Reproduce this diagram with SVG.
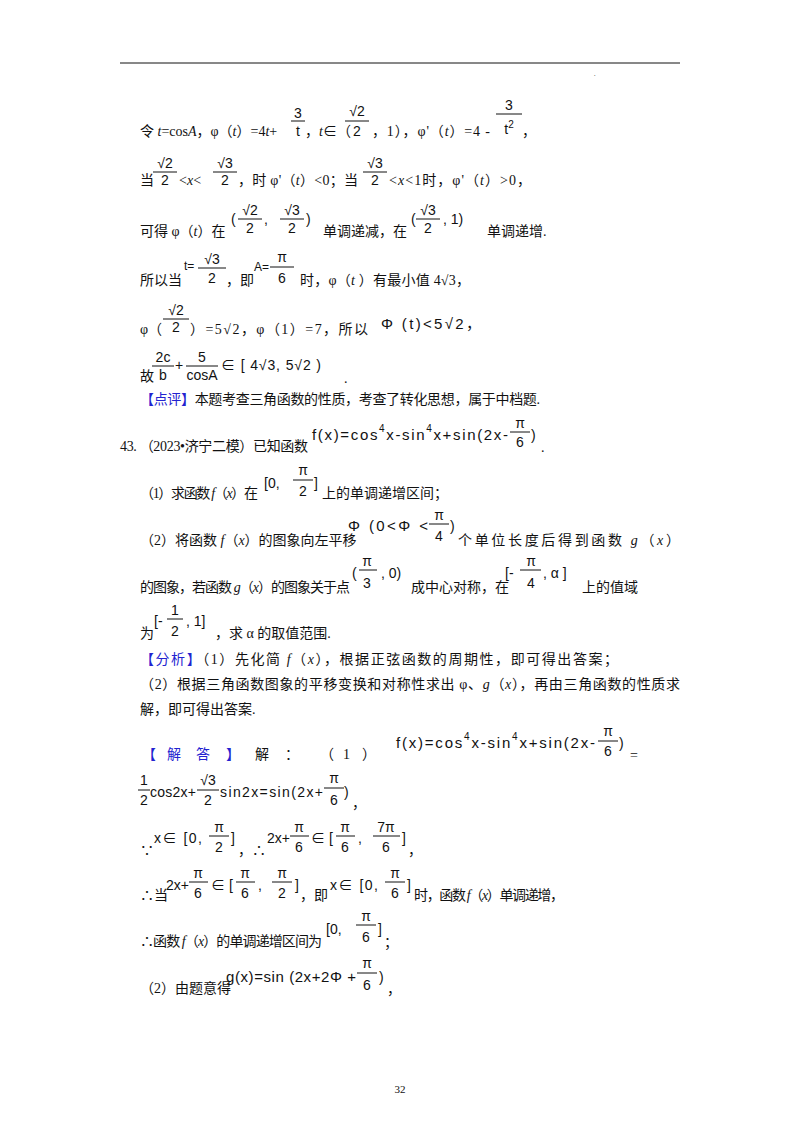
<svg xmlns="http://www.w3.org/2000/svg" width="800" height="1132" viewBox="0 0 800 1132">
<style>
text{font-family:"Liberation Serif","Noto Sans CJK SC",serif;font-size:14px;fill:#111}
.m{font-family:"Liberation Sans","Noto Sans CJK SC",sans-serif;font-size:14px}
.c{text-anchor:middle}
.b{fill:#2323d0}
.s{font-size:10px}
line{stroke:#111;stroke-width:1}
</style>
<rect width="800" height="1132" fill="#fff"/>
<line x1="120" y1="63" x2="680" y2="63" stroke="#000"/>
<text x="594" y="76" style="font-size:6px">.</text>
<g id="l1">
<text x="140" y="136">令 <tspan font-style="italic">t</tspan>=cos<tspan font-style="italic">A</tspan>，φ（<tspan font-style="italic">t</tspan>）=4<tspan font-style="italic">t</tspan>+</text>
<text class="m c" x="298" y="118">3</text><line x1="291" y1="121" x2="305" y2="121"/><text class="m c" x="298" y="136">t</text>
<text x="305" y="136">，<tspan font-style="italic">t</tspan>∈（</text>
<text class="m c" x="357" y="116">√2</text><line x1="345" y1="121" x2="369" y2="121"/><text class="m c" x="357" y="136">2</text>
<text x="372" y="136" textLength="118">，1），φ'（<tspan font-style="italic">t</tspan>）=4 -</text>
<text class="m c" x="509" y="110">3</text><line x1="496" y1="114" x2="522" y2="114"/><text class="m c" x="509" y="134">t<tspan class="s" dy="-6">2</tspan></text>
<text x="522" y="136">，</text>
</g>
<g id="l2">
<text x="140" y="185">当</text>
<text class="m c" x="165" y="168">√2</text><line x1="153" y1="172" x2="177" y2="172"/><text class="m c" x="165" y="185">2</text>
<text x="179" y="185">&lt;<tspan font-style="italic">x</tspan>&lt;</text>
<text class="m c" x="225" y="168">√3</text><line x1="213" y1="172" x2="237" y2="172"/><text class="m c" x="225" y="185">2</text>
<text x="238" y="185" textLength="120">，时 φ'（<tspan font-style="italic">t</tspan>）&lt;0；当</text>
<text class="m c" x="375" y="168">√3</text><line x1="363" y1="172" x2="387" y2="172"/><text class="m c" x="375" y="185">2</text>
<text x="389" y="185" textLength="142">&lt;<tspan font-style="italic">x</tspan>&lt;1时，φ'（<tspan font-style="italic">t</tspan>）&gt;0，</text>
</g>
<g id="l3">
<text x="140" y="236">可得 φ（<tspan font-style="italic">t</tspan>）在</text>
<text class="m" x="231" y="224">(</text>
<text class="m c" x="250" y="215">√2</text><line x1="238" y1="219" x2="262" y2="219"/><text class="m c" x="250" y="233">2</text>
<text class="m" x="264" y="224">,</text>
<text class="m c" x="292" y="215">√3</text><line x1="280" y1="219" x2="304" y2="219"/><text class="m c" x="292" y="233">2</text>
<text class="m" x="306" y="224">)</text>
<text x="323" y="236">单调递减，在</text>
<text class="m" x="411" y="224">(</text>
<text class="m c" x="428" y="215">√3</text><line x1="416" y1="219" x2="440" y2="219"/><text class="m c" x="428" y="233">2</text>
<text class="m" x="443" y="224">,  1)</text>
<text x="487" y="236">单调递增.</text>
</g>
<g id="l4">
<text x="140" y="285">所以当</text>
<text class="m" x="184" y="270" style="font-size:12px">t=</text>
<text class="m c" x="212" y="264">√3</text><line x1="198" y1="268" x2="226" y2="268"/><text class="m c" x="212" y="283">2</text>
<text x="226" y="285">，即</text>
<text class="m" x="254" y="271" style="font-size:12px">A=</text>
<text class="m c" x="282" y="262">π</text><line x1="270" y1="267" x2="294" y2="267"/><text class="m c" x="282" y="283">6</text>
<text x="300" y="285" textLength="170">时，φ（<tspan font-style="italic">t</tspan> ）有最小值 4√3，</text>
</g>
<g id="l5">
<text x="140" y="334">φ（</text>
<text class="m c" x="176" y="315">√2</text><line x1="163" y1="319" x2="189" y2="319"/><text class="m c" x="176" y="332">2</text>
<text x="190" y="334" textLength="178">）=5√2，φ（1）=7，所以</text>
<text class="m" x="381" y="329" textLength="100" style="font-size:15px">Φ (t)&lt;5√2，</text>
</g>
<g id="l6">
<text x="140" y="381">故</text>
<text class="m c" x="163" y="362">2c</text><line x1="152" y1="366" x2="174" y2="366"/><text class="m c" x="163" y="380">b</text>
<text class="m" x="175" y="370">+</text>
<text class="m c" x="202" y="362">5</text><line x1="186" y1="366" x2="218" y2="366"/><text class="m c" x="202" y="380">cosA</text>
<text class="m" x="221" y="370" textLength="100">∈ [ 4√3, 5√2 )</text>
<text x="344" y="383">.</text>
</g>
<g id="dianping">
<text x="140" y="404" textLength="400"><tspan class="b">【点评】</tspan>本题考查三角函数的性质，考查了转化思想，属于中档题.</text>
</g>
<g id="q43">
<text x="120" y="451" textLength="188">43. （2023•济宁二模）已知函数</text>
<text class="m" x="312" y="440" textLength="196" style="font-size:15px">f(x)=cos<tspan class="s" dy="-8">4</tspan><tspan dy="8">x-sin</tspan><tspan class="s" dy="-8">4</tspan><tspan dy="8">x+sin(2x-</tspan></text>
<text class="m c" x="520" y="428">π</text><line x1="510" y1="432" x2="530" y2="432"/><text class="m c" x="520" y="447">6</text>
<text class="m" x="531" y="440">)</text>
<text x="541" y="452">.</text>
</g>
<g id="q1">
<text x="140" y="498" textLength="118">（1）求函数 <tspan font-style="italic">f</tspan>（<tspan font-style="italic">x</tspan>）在</text>
<text class="m" x="264" y="488">[0,</text>
<text class="m c" x="303" y="475">π</text><line x1="293" y1="480" x2="313" y2="480"/><text class="m c" x="303" y="496">2</text>
<text class="m" x="314" y="488">]</text>
<text x="322" y="498">上的单调递增区间；</text>
</g>
<g id="q2">
<text x="140" y="545">（2）将函数 <tspan font-style="italic">f</tspan>（<tspan font-style="italic">x</tspan>）的图象向左平移</text>
<text class="m" x="348" y="531" textLength="80" style="font-size:15px">Φ (0&lt;Φ &lt;</text>
<text class="m c" x="439" y="520">π</text><line x1="429" y1="524" x2="449" y2="524"/><text class="m c" x="439" y="541">4</text>
<text class="m" x="450" y="531">)</text>
<text x="458" y="545" textLength="222">个单位长度后得到函数 <tspan font-style="italic">g</tspan>（<tspan font-style="italic">x</tspan>）</text>
<text x="140" y="592" textLength="210">的图象，若函数 <tspan font-style="italic">g</tspan>（<tspan font-style="italic">x</tspan>）的图象关于点</text>
<text class="m" x="352" y="578">(</text>
<text class="m c" x="367" y="566">π</text><line x1="359" y1="570" x2="377" y2="570"/><text class="m c" x="367" y="588">3</text>
<text class="m" x="381" y="578">,  0)</text>
<text x="411" y="592">成中心对称，在</text>
<text class="m" x="505" y="578">[-</text>
<text class="m c" x="531" y="566">π</text><line x1="520" y1="570" x2="541" y2="570"/><text class="m c" x="531" y="588">4</text>
<text class="m" x="543" y="578">,   α ]</text>
<text x="582" y="592">上的值域</text>
<text x="140" y="638">为</text>
<text class="m" x="154" y="626">[-</text>
<text class="m c" x="175" y="615">1</text><line x1="167" y1="619" x2="183" y2="619"/><text class="m c" x="175" y="636">2</text>
<text class="m" x="186" y="626">,  1]</text>
<text x="215" y="638">，求 α 的取值范围.</text>
</g>
<g id="fenxi">
<text x="140" y="664" textLength="478"><tspan class="b">【分析】</tspan>（1）先化简 <tspan font-style="italic">f</tspan>（<tspan font-style="italic">x</tspan>），根据正弦函数的周期性，即可得出答案；</text>
<text x="140" y="689" textLength="540">（2）根据三角函数图象的平移变换和对称性求出 φ、<tspan font-style="italic">g</tspan>（<tspan font-style="italic">x</tspan>），再由三角函数的性质求</text>
<text x="140" y="714">解，即可得出答案.</text>
</g>
<g id="jieda">
<text class="b" x="142" y="759">【</text><text class="b" x="167" y="759">解</text><text class="b" x="196" y="759">答</text><text class="b" x="226" y="759">】</text>
<text x="255" y="759">解</text><text x="285" y="759">：</text><text x="320" y="759">（</text><text x="343" y="759">1</text><text x="362" y="759">）</text>
<text class="m" x="396" y="748" textLength="199" style="font-size:15px">f(x)=cos<tspan class="s" dy="-8">4</tspan><tspan dy="8">x-sin</tspan><tspan class="s" dy="-8">4</tspan><tspan dy="8">x+sin(2x-</tspan></text>
<text class="m c" x="608" y="736">π</text><line x1="598" y1="741" x2="618" y2="741"/><text class="m c" x="608" y="756">6</text>
<text class="m" x="619" y="748">)</text>
<text x="630" y="760">=</text>
<text class="m c" x="144" y="785">1</text><line x1="138" y1="790" x2="150" y2="790"/><text class="m c" x="144" y="805">2</text>
<text class="m" x="150" y="797" textLength="46">cos2x+</text>
<text class="m c" x="208" y="785">√3</text><line x1="197" y1="790" x2="219" y2="790"/><text class="m c" x="208" y="805">2</text>
<text class="m" x="220" y="797" textLength="103">sin2x=sin(2x+</text>
<text class="m c" x="334" y="783">π</text><line x1="324" y1="788" x2="344" y2="788"/><text class="m c" x="334" y="805">6</text>
<text class="m" x="344" y="797">)</text>
<text x="352" y="808">，</text>
<text x="140" y="855">∵</text>
<text class="m" x="154" y="843" textLength="48">x∈ [0,</text>
<text class="m c" x="219" y="832">π</text><line x1="209" y1="836" x2="229" y2="836"/><text class="m c" x="219" y="852">2</text>
<text class="m" x="231" y="843">]</text>
<text x="238" y="855">，∴</text>
<text class="m" x="267" y="843">2x+</text>
<text class="m c" x="299" y="832">π</text><line x1="290" y1="836" x2="309" y2="836"/><text class="m c" x="299" y="852">6</text>
<text class="m" x="311" y="843">∈ [</text>
<text class="m c" x="345" y="832">π</text><line x1="336" y1="836" x2="355" y2="836"/><text class="m c" x="345" y="852">6</text>
<text class="m" x="358" y="843">,</text>
<text class="m c" x="386" y="832">7π</text><line x1="373" y1="836" x2="400" y2="836"/><text class="m c" x="386" y="852">6</text>
<text class="m" x="402" y="843">]</text>
<text x="408" y="855">，</text>
<text x="140" y="900">∴当</text>
<text class="m" x="166" y="890">2x+</text>
<text class="m c" x="198" y="878">π</text><line x1="189" y1="882" x2="208" y2="882"/><text class="m c" x="198" y="898">6</text>
<text class="m" x="211" y="890">∈ [</text>
<text class="m c" x="245" y="878">π</text><line x1="236" y1="882" x2="255" y2="882"/><text class="m c" x="245" y="898">6</text>
<text class="m" x="258" y="890">,</text>
<text class="m c" x="282" y="878">π</text><line x1="272" y1="882" x2="292" y2="882"/><text class="m c" x="282" y="898">2</text>
<text class="m" x="295" y="890">]</text>
<text x="300" y="900">，即</text>
<text class="m" x="330" y="890" textLength="48">x∈ [0,</text>
<text class="m c" x="395" y="878">π</text><line x1="385" y1="882" x2="405" y2="882"/><text class="m c" x="395" y="898">6</text>
<text class="m" x="407" y="890">]</text>
<text x="414" y="900" textLength="150">时，函数 <tspan font-style="italic">f</tspan>（<tspan font-style="italic">x</tspan>）单调递增，</text>
<text x="140" y="946" textLength="182">∴函数 <tspan font-style="italic">f</tspan>（<tspan font-style="italic">x</tspan>）的单调递增区间为</text>
<text class="m" x="326" y="934">[0,</text>
<text class="m c" x="366" y="921">π</text><line x1="356" y1="925" x2="376" y2="925"/><text class="m c" x="366" y="942">6</text>
<text class="m" x="378" y="934">]</text>
<text x="384" y="947">；</text>
<text x="140" y="993">（2）由题意得</text>
<text class="m" x="226" y="982" textLength="130" style="font-size:15px">g(x)=sin (2x+2Φ +</text>
<text class="m c" x="367" y="968">π</text><line x1="357" y1="973" x2="377" y2="973"/><text class="m c" x="367" y="990">6</text>
<text class="m" x="379" y="982">)</text>
<text x="387" y="994">，</text>
</g>
<text x="400" y="1093" class="c" style="font-size:11px">32</text>
</svg>
